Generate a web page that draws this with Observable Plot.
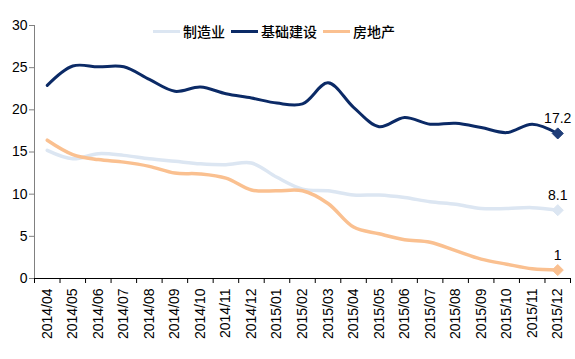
<!DOCTYPE html>
<html>
<head>
<meta charset="utf-8">
<script src="https://cdn.jsdelivr.net/npm/d3@7"></script>
<script src="https://cdn.jsdelivr.net/npm/@observablehq/plot@0.6"></script>
<style>
  html, body { margin: 0; padding: 0; background: #fff; }
  #wrap { position: relative; width: 575px; height: 359px; font-family: "Liberation Sans", Arial, "Noto Sans CJK SC", sans-serif; }
  #legend { position: absolute; left: 153px; top: 21px; display: flex; align-items: center; font-size: 14px; color: #000; font-family: "Noto Sans CJK SC", sans-serif; font-weight: 500; }
  .item { display: flex; align-items: center; margin-right: 6px; }
  .sw { width: 27px; height: 3px; margin-right: 3px; }
</style>
</head>
<body>
<div id="wrap">
  <div id="chart"></div>
  <div id="legend"></div>
</div>
<script>
const months = ["2014/04","2014/05","2014/06","2014/07","2014/08","2014/09","2014/10","2014/11","2014/12",
  "2015/01","2015/02","2015/03","2015/04","2015/05","2015/06","2015/07","2015/08","2015/09","2015/10","2015/11","2015/12"];
const seriesNames = ["制造业", "基础建设", "房地产"];
const manufacturing = [15.2,14.2,14.8,14.6,14.2,13.9,13.6,13.5,13.7,12.0,10.6,10.4,9.9,9.9,9.6,9.1,8.8,8.3,8.3,8.4,8.1];
const infrastructure = [22.9,25.2,25.1,25.1,23.6,22.2,22.7,21.9,21.4,20.8,20.7,23.2,20.3,18.0,19.1,18.3,18.4,17.9,17.3,18.3,17.2];
const realEstate = [16.4,14.7,14.1,13.8,13.3,12.5,12.4,11.9,10.5,10.4,10.4,8.9,6.1,5.3,4.6,4.3,3.3,2.3,1.7,1.15,1.0];
const endLabels = ["8.1", "17.2", "1"];
const yTicks = [0,5,10,15,20,25,30];
const colors = ["#dce6f2", "#0b2a66", "#fac090"];
const markerColors = ["#dce6f2", "#1f3d78", "#fac090"];
const widths = [3.5, 3, 3.5];

const allSeries = [manufacturing, infrastructure, realEstate];
const rows = allSeries.flatMap((vals, s) => vals.map((v, i) => ({s, name: seriesNames[s], i, v})));
const lasts = allSeries.map((vals, s) => ({s, i: vals.length - 1, v: vals[vals.length - 1], label: endLabels[s]}));

const marks = [];
allSeries.forEach((vals, s) => {
  marks.push(Plot.line(rows.filter(d => d.s === s), {x: "i", y: "v", stroke: colors[s], strokeWidth: widths[s], curve: "catmull-rom"}));
});
marks.push(Plot.dot(lasts, {x: "i", y: "v", symbol: "diamond2", r: 5, fill: d => markerColors[d.s], stroke: d => markerColors[d.s], strokeWidth: 1}));
marks.push(Plot.text(lasts, {x: "i", y: "v", text: "label", lineAnchor: "bottom", dy: -10, fontSize: 14, fill: "#000"}));
marks.push(Plot.axisY({ticks: yTicks, tickSize: 5, tickPadding: 2, fontSize: 14, stroke: "#808080", color: "#000", label: null}));
marks.push(Plot.ruleX([-0.5], {stroke: "#808080", strokeWidth: 1}));
marks.push(Plot.ruleY([0], {stroke: "#000", strokeWidth: 1}));
marks.push(Plot.axisX({ticks: d3.range(months.length + 1).map(i => i - 0.5), tickSize: 5, tickFormat: () => "", stroke: "#000", label: null}));
marks.push(Plot.axisX({ticks: d3.range(months.length), tickSize: 0, tickPadding: 10, tickRotate: -90, fontSize: 14, tickFormat: i => months[i], color: "#000", label: null}));

const chart = Plot.plot({
  width: 575,
  height: 359,
  marginLeft: 34,
  marginRight: 5,
  marginTop: 25,
  marginBottom: 81,
  style: {fontFamily: "'Liberation Sans', Arial, sans-serif", fontSize: "14px", color: "#000", background: "#fff"},
  x: {type: "linear", domain: [-0.5, months.length - 0.5], label: null},
  y: {domain: [0, 30], label: null},
  marks
});
document.getElementById("chart").appendChild(chart);

const legend = document.getElementById("legend");
seriesNames.forEach((n, s) => {
  const item = document.createElement("div");
  item.className = "item";
  const sw = document.createElement("span");
  sw.className = "sw";
  sw.style.background = colors[s];
  item.appendChild(sw);
  const t = document.createElement("span");
  t.textContent = n;
  item.appendChild(t);
  legend.appendChild(item);
});
</script>
</body>
</html>
